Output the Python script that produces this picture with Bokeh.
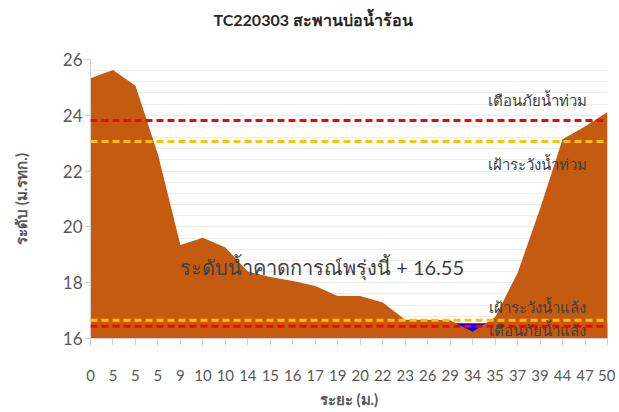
from bokeh.plotting import figure
from bokeh.models import Span, Label, FixedTicker, SingleIntervalTicker, ColumnDataSource, Range1d, Title
from bokeh.embed import file_html
from bokeh.resources import INLINE

# ---- data ----
distance_labels = ["0", "5", "5", "5", "9", "10", "10", "14", "15", "16", "17", "19",
                   "20", "22", "23", "26", "29", "34", "35", "37", "39", "44", "47", "50"]
ground_level = [25.33, 25.62, 25.06, 22.6, 19.35, 19.61, 19.26, 18.4, 18.2, 18.06, 17.88, 17.52,
                17.52, 17.29, 16.67, 16.67, 16.65, 16.24, 16.76, 18.35, 20.65, 23.14, 23.6, 24.12]
water_level = 16.55
flood_warning = 23.81
flood_watch = 23.06
drought_watch = 16.65
drought_warning = 16.44
y_min, y_max = 16, 26

title_text = "TC220303 สะพานบ่อน้ำร้อน"
x_title = "ระยะ (ม.)"
y_title = "ระดับ (ม.รทก.)"
forecast_text = f"ระดับน้ำคาดการณ์พรุ่งนี้ + {water_level:.2f}"

FONT = "Lato"
idx = list(range(len(distance_labels)))
src = ColumnDataSource(dict(x=idx, ground=ground_level,
                            base=[y_min] * len(idx), water=[water_level] * len(idx)))

W, H = 615, 410
BL, BR, BT, BB = 90, 8, 59, 68
p = figure(width=W, height=H, output_backend="svg", toolbar_location=None,
           x_range=Range1d(idx[0], idx[-1]), y_range=Range1d(y_min, y_max),
           min_border_left=BL, min_border_right=BR, min_border_top=BT, min_border_bottom=BB,
           title=title_text)
p.outline_line_color = None
p.background_fill_color = "white"

p.title.align = "left"
p.title.vertical_align = "bottom"
p.title.offset = 123
p.title.standoff = 0
p.title.text_font = FONT
p.title.text_font_size = "16px"
p.title.text_font_style = "bold"
p.title.text_color = "#262626"
# spacer between title and plot frame
p.add_layout(Title(text=" ", text_font_size="1px", standoff=28), "above")

# water then ground
p.varea(x="x", y1="base", y2="water", source=src, fill_color="#0000ff")
p.varea(x="x", y1="base", y2="ground", source=src, fill_color="#c55a11")

# threshold lines
for loc, col in [(flood_warning, "#ff0000"), (flood_watch, "#ffc000"),
                 (drought_watch, "#ffc000"), (drought_warning, "#ff0000")]:
    p.add_layout(Span(location=loc, dimension="width", line_color=col,
                      line_width=3, line_dash="7 4"))

# axes
p.xaxis.ticker = FixedTicker(ticks=idx)
p.xaxis.major_label_overrides = {i: lab for i, lab in enumerate(distance_labels)}
p.yaxis.ticker = SingleIntervalTicker(interval=2)
p.xgrid.visible = False
p.ygrid.ticker = SingleIntervalTicker(interval=0.4)
p.ygrid.grid_line_color = "#ececec"
p.ygrid.grid_line_width = 1

for ax in (p.xaxis[0], p.yaxis[0]):
    ax.axis_line_color = "#d0d0d0"
    ax.major_tick_line_color = "#d0d0d0"
    ax.minor_tick_line_color = None
    ax.major_tick_in = 0
    ax.major_label_text_color = "#595959"
    ax.major_label_text_font = FONT
    ax.axis_label_text_font = FONT
    ax.axis_label_text_font_style = "bold"
    ax.axis_label_text_color = "#595959"
    ax.axis_label_text_font_size = "15px"

p.xaxis.major_tick_out = 7
p.xaxis.major_label_text_font_size = "15px"
p.xaxis.major_label_standoff = 24
p.xaxis.axis_label = x_title
p.xaxis.axis_label_standoff = 6

p.yaxis.major_tick_out = 5
p.yaxis.major_label_text_font_size = "17px"
p.yaxis.major_label_standoff = 3
p.yaxis.axis_label = y_title
p.yaxis.axis_label_standoff = 30

# threshold labels
for txt, yv in [("เตือนภัยน้ำท่วม", 24.55), ("เฝ้าระวังน้ำท่วม", 22.25),
                ("เฝ้าระวังน้ำแล้ง", 17.14), ("เตือนภัยน้ำแล้ง", 16.3)]:
    p.add_layout(Label(x=19.9, y=yv, text=txt, text_align="center", text_baseline="middle",
                       text_font=FONT, text_font_size="15px", text_color="#404040"))

p.add_layout(Label(x=10.3, y=18.55, text=forecast_text, text_align="center",
                   text_baseline="middle", text_font=FONT, text_font_size="20px",
                   text_color="#404040"))

open("out.html", "w").write(file_html(p, INLINE))
